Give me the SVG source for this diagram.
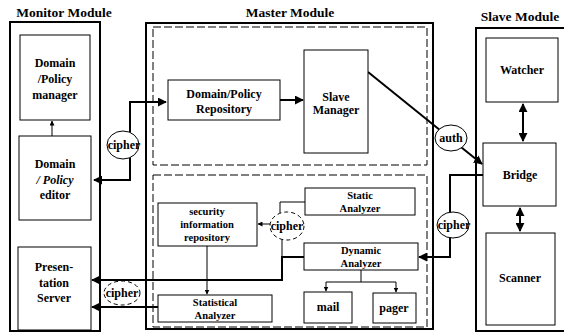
<svg xmlns="http://www.w3.org/2000/svg" width="564" height="335" viewBox="0 0 564 335" font-family="'Liberation Serif', 'Times New Roman', 'DejaVu Serif', serif">
<defs>
<marker id="ah" viewBox="0 0 10 10" refX="9" refY="5" markerWidth="5" markerHeight="5" orient="auto-start-reverse" markerUnits="userSpaceOnUse"><path d="M0,0 L10,5 L0,10 z" fill="#000"/></marker>
<marker id="ahb" viewBox="0 0 10 10" refX="9" refY="5" markerWidth="9" markerHeight="9" orient="auto-start-reverse" markerUnits="userSpaceOnUse"><path d="M0,0 L10,5 L0,10 z" fill="#000"/></marker>
</defs>
<style>
text{font-family:'Liberation Serif','Times New Roman','DejaVu Serif',serif;font-weight:bold;fill:#000;text-anchor:middle}
.title{font-size:13.5px}
.lbl{font-size:12px}
.sm{font-size:10.5px}
.box{fill:#fff;stroke:#000;stroke-width:1}
.module{fill:none;stroke:#000;stroke-width:2}
.dash{fill:none;stroke:#000;stroke-width:1;stroke-dasharray:8 3}
.thick{fill:none;stroke:#000;stroke-width:2}
.thin{fill:none;stroke:#000;stroke-width:1}
.ell{fill:#fff;stroke:#000;stroke-width:1}
.elld{fill:#fff;stroke:#000;stroke-width:1;stroke-dasharray:4 3}
</style>
<rect width="564" height="335" fill="#fff"/>

<g id="monitor-module">
<text class="title" x="64" y="17">Monitor Module</text>
<rect class="module" x="10" y="22" width="90" height="309"/>
</g>
<g id="master-module">
<text class="title" x="290" y="17">Master Module</text>
<rect class="module" x="146" y="23" width="287" height="306"/>
<rect class="dash" x="153" y="27" width="274" height="138"/>
<rect class="dash" x="153" y="175" width="274" height="152"/>
</g>
<g id="slave-module">
<text class="title" x="520" y="21">Slave Module</text>
<rect class="module" x="476" y="28" width="100" height="303"/>
</g>

<g id="connectors">
<path class="thick" d="M94,180 H130 V102 H166" marker-start="url(#ahb)" marker-end="url(#ahb)"/>
<path class="thin" d="M52,136 V121" marker-end="url(#ah)"/>
<path class="thick" d="M280,100 H303" marker-end="url(#ahb)"/>
<path class="thick" d="M368,72 L482,164" marker-end="url(#ahb)"/>
<path class="thick" d="M483,175 H450 V257 H419" marker-end="url(#ahb)"/>
<path class="thin" d="M305,202 H280 V213"/>
<path class="thick" d="M304,257 H282 V280 H92" marker-end="url(#ahb)"/>
<path class="thin" d="M282,257 V238"/>
<path class="thin" d="M271,224 H258" marker-end="url(#ah)"/>
<path class="thick" d="M158,307 H92" marker-end="url(#ahb)"/>
<path class="thin" d="M207,246 V294" marker-end="url(#ah)"/>
<path class="thin" d="M361,270 V282 M326,282 H396"/>
<path class="thin" d="M326,282 V291" marker-end="url(#ah)"/>
<path class="thin" d="M396,282 V292" marker-end="url(#ah)"/>
<path class="thick" d="M523,104 V141" marker-start="url(#ahb)" marker-end="url(#ahb)"/>
<path class="thick" d="M520,208 V231" marker-start="url(#ahb)" marker-end="url(#ahb)"/>
<ellipse class="ell" cx="123" cy="145" rx="16" ry="14"/>
<text class="lbl" x="124" y="149">cipher</text>
<ellipse class="elld" cx="122" cy="293" rx="18" ry="12"/>
<text class="lbl" x="122" y="297">cipher</text>
<ellipse class="ell" cx="451" cy="138" rx="16" ry="13"/>
<text class="lbl" x="451" y="142">auth</text>
<ellipse class="ell" cx="453" cy="225" rx="16" ry="13"/>
<text class="lbl" x="454" y="229">cipher</text>
<ellipse class="elld" cx="287" cy="226" rx="17" ry="14"/>
<text class="lbl" x="287" y="230">cipher</text>
</g>

<g id="domain-policy-manager">
<rect class="box" x="20" y="35" width="70" height="85"/>
<text class="lbl" x="55" y="67">Domain</text>
<text class="lbl" x="55" y="83">/Policy</text>
<text class="lbl" x="55" y="99">manager</text>
</g>
<g id="domain-policy-editor">
<rect class="box" x="19" y="136" width="72" height="84"/>
<text class="lbl" x="55" y="168">Domain</text>
<text class="lbl" x="55" y="184" font-style="italic">/ Policy</text>
<text class="lbl" x="55" y="199">editor</text>
</g>
<g id="presentation-server">
<rect class="box" x="18" y="247" width="73" height="83"/>
<text class="lbl" x="54" y="271">Presen-</text>
<text class="lbl" x="54" y="287">tation</text>
<text class="lbl" x="54" y="302">Server</text>
</g>
<g id="domain-policy-repository">
<rect class="box" x="168" y="80" width="112" height="40"/>
<text class="lbl" x="224" y="98">Domain/Policy</text>
<text class="lbl" x="224" y="113">Repository</text>
</g>
<g id="slave-manager">
<rect class="box" x="304" y="50" width="64" height="103"/>
<text class="lbl" x="336" y="101">Slave</text>
<text class="lbl" x="336" y="114">Manager</text>
</g>
<g id="security-information-repository">
<rect class="box" x="158" y="203" width="99" height="43"/>
<text class="sm" x="207" y="215">security</text>
<text class="sm" x="207" y="228">information</text>
<text class="sm" x="207" y="241">repository</text>
</g>
<g id="static-analyzer">
<rect class="box" x="305" y="188" width="110" height="27"/>
<text class="sm" x="360" y="199">Static</text>
<text class="sm" x="360" y="211.5">Analyzer</text>
</g>
<g id="dynamic-analyzer">
<rect class="box" x="304" y="243" width="114" height="27"/>
<text class="sm" x="361" y="254">Dynamic</text>
<text class="sm" x="361" y="266.5">Analyzer</text>
</g>
<g id="statistical-analyzer">
<rect class="box" x="158" y="295" width="114" height="27"/>
<text class="sm" x="215" y="306">Statistical</text>
<text class="sm" x="215" y="318.5">Analyzer</text>
</g>
<g id="mail">
<rect class="box" x="304" y="292" width="48" height="31"/>
<text class="lbl" x="328" y="311">mail</text>
</g>
<g id="pager">
<rect class="box" x="373" y="293" width="43" height="30"/>
<text class="lbl" x="394" y="312">pager</text>
</g>
<g id="watcher">
<rect class="box" x="486" y="38" width="72" height="64"/>
<text class="lbl" x="522" y="74">Watcher</text>
</g>
<g id="bridge">
<rect class="box" x="483" y="143" width="73" height="63"/>
<text class="lbl" x="520" y="179">Bridge</text>
</g>
<g id="scanner">
<rect class="box" x="486" y="233" width="69" height="92"/>
<text class="lbl" x="520" y="282">Scanner</text>
</g>
</svg>
